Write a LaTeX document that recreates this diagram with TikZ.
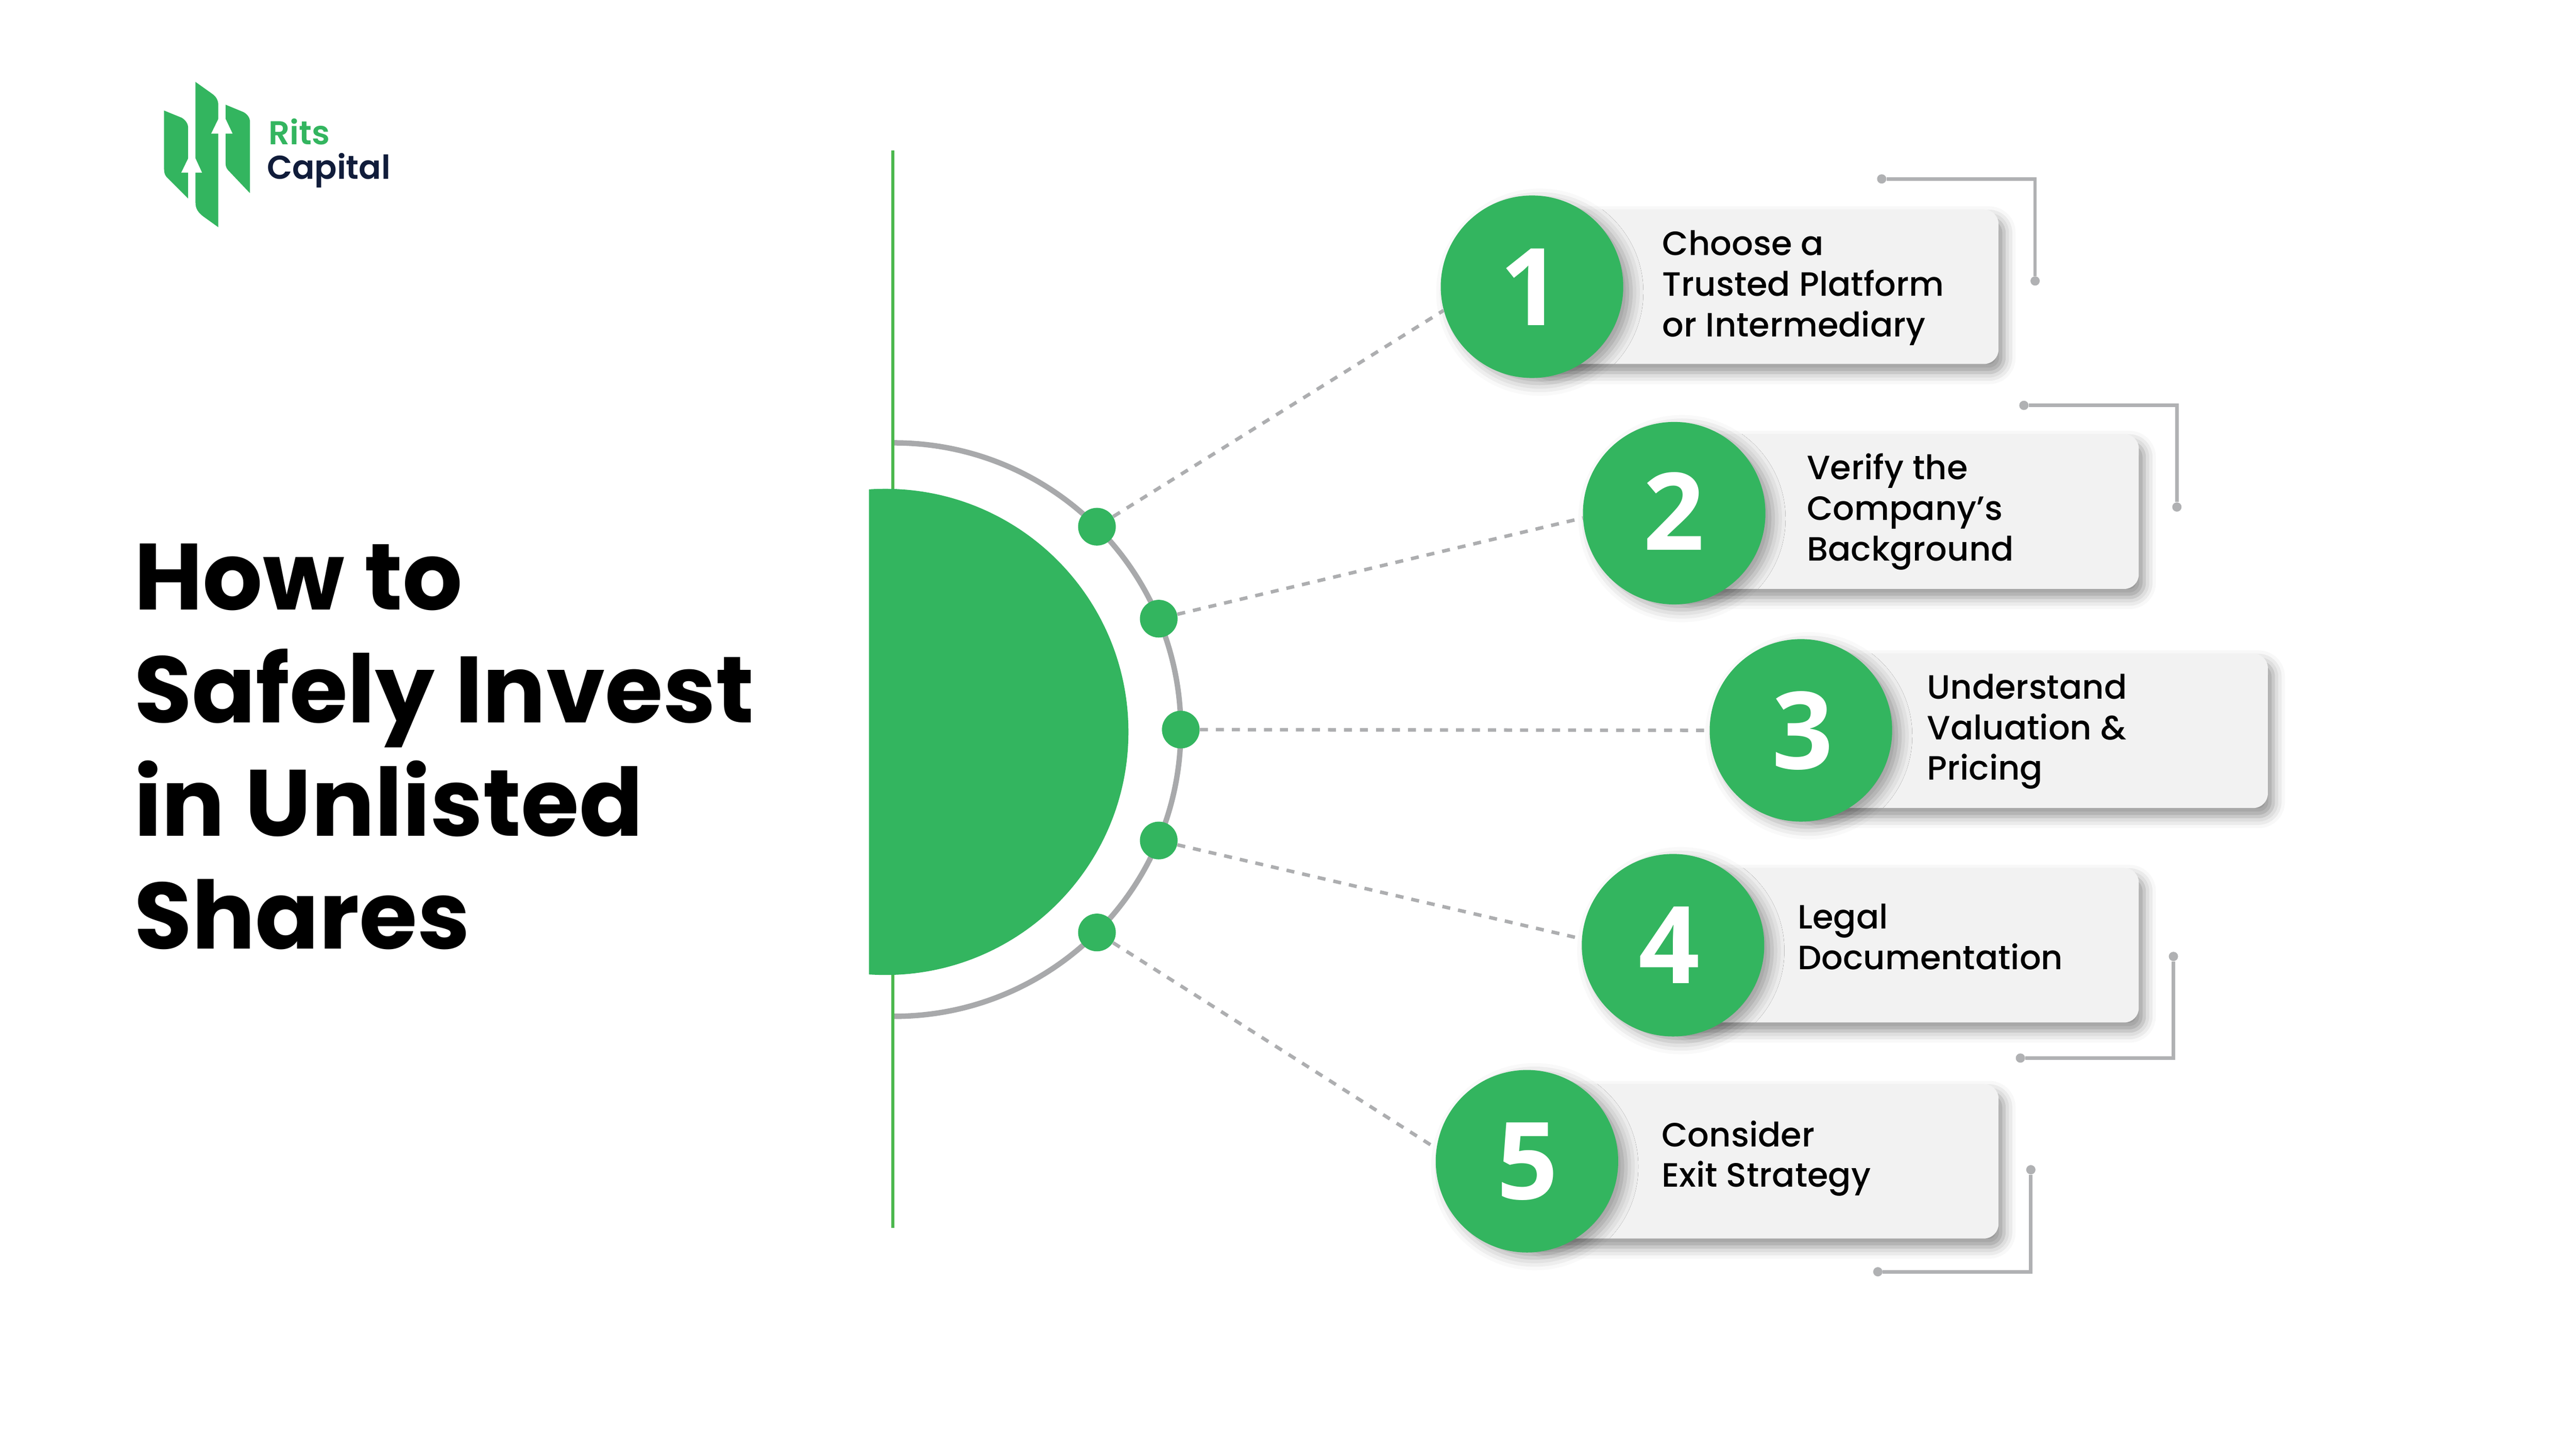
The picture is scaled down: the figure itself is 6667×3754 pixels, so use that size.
\documentclass[tikz,border=0pt]{standalone}
\usepackage{fontspec}
\setmainfont{Poppins}[BoldFont={Poppins Bold}]
\newfontfamily\pmed{Poppins Medium}
\newfontfamily\psemi{Poppins SemiBold}
\newfontfamily\pbold{Poppins Bold}
\newfontfamily\digitfont{Open Sans Bold}
\usetikzlibrary{shadows.blur}
\definecolor{brand}{HTML}{33B55F}
\definecolor{vline}{HTML}{4CB84F}
\definecolor{ring}{HTML}{A8A9AB}
\definecolor{dashc}{HTML}{ADAEB0}
\definecolor{brk}{HTML}{B0B1B3}
\definecolor{cardc}{HTML}{F2F2F2}
\definecolor{navy}{HTML}{101C3A}
\tikzset{
  x=0.01cm,y=-0.01cm,
  cardshadow/.style={blur shadow={shadow xshift=0.14cm,shadow yshift=-0.22cm,shadow blur radius=0.3cm,shadow opacity=42}},
  discshadow/.style={blur shadow={shadow xshift=0.2cm,shadow yshift=-0.14cm,shadow blur radius=0.32cm,shadow opacity=36}},
  cardbox/.style={fill=cardc,cardshadow,rounded corners=0.38cm},
  numdisc/.style={circle,fill=brand,minimum size=4.72cm,inner sep=0pt,discshadow},
  digit/.style={anchor=base,inner sep=0pt,text=white,font=\digitfont\fontsize{79pt}{79pt}\selectfont},
  ringdot/.style={circle,fill=brand,minimum size=0.975cm,inner sep=0pt},
  tip/.style={circle,fill=brk,minimum size=0.24cm,inner sep=0pt},
  bracket/.style={draw=brk,line width=0.09cm},
  leader/.style={draw=dashc,line width=0.09cm,dash pattern=on 0.207cm off 0.207cm},
  steptext/.style={anchor=base west,inner sep=0pt,align=left,text=black,font=\pmed\fontsize{24.8pt}{29.87pt}\selectfont},
  headline/.style={anchor=base west,inner sep=0pt,align=left,text=black,font=\pbold\fontsize{69.3pt}{83.1pt}\selectfont},
  logotext/.style={anchor=base west,inner sep=0pt,font=\psemi\fontsize{24.3pt}{24.3pt}\selectfont},
}
\begin{document}
\begin{tikzpicture}
\path[use as bounding box] (0,0) rectangle (6667,3754);
% logo
\fill[brand] (424.6,286) -- (471,305) .. controls (481,312) and (487,320) .. (487,332) -- (487,514) -- (431,458) .. controls (426,452) and (424.6,445) .. (424.6,437) -- cycle;
\fill[brand] (506,212) -- (549.5,243) .. controls (559.5,250) and (565,260) .. (565,272) -- (565,588) -- (526,560) .. controls (513,550) and (506,540) .. (506,525) -- cycle;
\fill[brand] (584,271) -- (630,290) .. controls (641,296) and (647,305) .. (647,316) -- (647,500) -- (590,440) .. controls (586,435) and (584,430) .. (584,424) -- cycle;
\fill[white] (487,410) -- (506,410) -- (523,447) -- (469,447) -- cycle;
\fill[white] (565,308) -- (584,308) -- (602,346) -- (546.5,346) -- cycle;
\node[logotext,text=brand] (logoa) at (695,374) {Rits};
\node[logotext,text=navy] (logob) at (690,463) {Capital};
% heading
\node[headline] (title) at (346,2455) {How to\\Safely Invest\\in Unlisted\\Shares};
% ring and axis
\draw[ring,line width=0.14cm] (2310,1146) -- (2314,1146) arc[radius=742,start angle=-90,end angle=90] -- (2310,2630);
\draw[vline,line width=0.08cm] (2310.5,390) -- (2310.5,3178);
\begin{scope}
\clip (2249,1200) rectangle (3000,2600);
\fill[brand] (2291.5,1894) circle[radius=629];
\end{scope}
% cards
\fill[cardbox] (3965,542) rectangle (5172.5,942);
\fill[cardbox] (4333,1123) rectangle (5535.5,1524);
\fill[cardbox] (4661,1691) rectangle (5869.5,2091);
\fill[cardbox] (4330,2246) rectangle (5535.5,2646);
\fill[cardbox] (3952,2805) rectangle (5172.5,3205);
% ring dots
\node[ringdot] (d1) at (2839,1363) {};
\node[ringdot] (d2) at (2999,1601) {};
\node[ringdot] (d3) at (3056,1888) {};
\node[ringdot] (d4) at (2999,2175) {};
\node[ringdot] (d5) at (2839,2413) {};
% number discs
\node[numdisc] (c1) at (3965,742) {};
\node[numdisc] (c2) at (4333,1328) {};
\node[numdisc] (c3) at (4661,1890) {};
\node[numdisc] (c4) at (4330,2446) {};
\node[numdisc] (c5) at (3952,3005) {};
% leaders
\draw[leader] (d1) -- (c1.195);
\draw[leader] (d2) -- (c2.183);
\draw[leader] (d3) -- (c3.180);
\draw[leader] (d4) -- (c4.176.4);
\draw[leader] (d5) -- (c5.172.2);
% digits
\node[digit] (n1) at (3962,842) {1};
\node[digit] (n2) at (4332,1423) {2};
\node[digit] (n3) at (4665,1990) {3};
\node[digit] (n4) at (4320,2545) {4};
\node[digit] (n5) at (3954,3103) {5};
% step text
\node[steptext] (t1) at (4302,871) {Choose a\\Trusted Platform\\or Intermediary};
\node[steptext] (t2) at (4676,1451) {Verify the\\Company’s\\Background};
\node[steptext] (t3) at (4987,2018.6) {Understand\\Valuation \&\\Pricing};
\node[steptext] (t4) at (4652,2509) {Legal\\Documentation};
\node[steptext] (t5) at (4300,3072) {Consider\\Exit Strategy};
% brackets
\node[tip] (b1a) at (4870,463) {};
\node[tip] (b1b) at (5267,727) {};
\draw[bracket] (b1a) -| (b1b);
\node[tip] (b2a) at (5238,1049) {};
\node[tip] (b2b) at (5634,1312) {};
\draw[bracket] (b2a) -| (b2b);
\node[tip] (b4a) at (5625,2475) {};
\node[tip] (b4b) at (5229,2738) {};
\draw[bracket] (b4a) |- (b4b);
\node[tip] (b5a) at (5256,3027) {};
\node[tip] (b5b) at (4860,3291) {};
\draw[bracket] (b5a) |- (b5b);
\end{tikzpicture}
\end{document}
